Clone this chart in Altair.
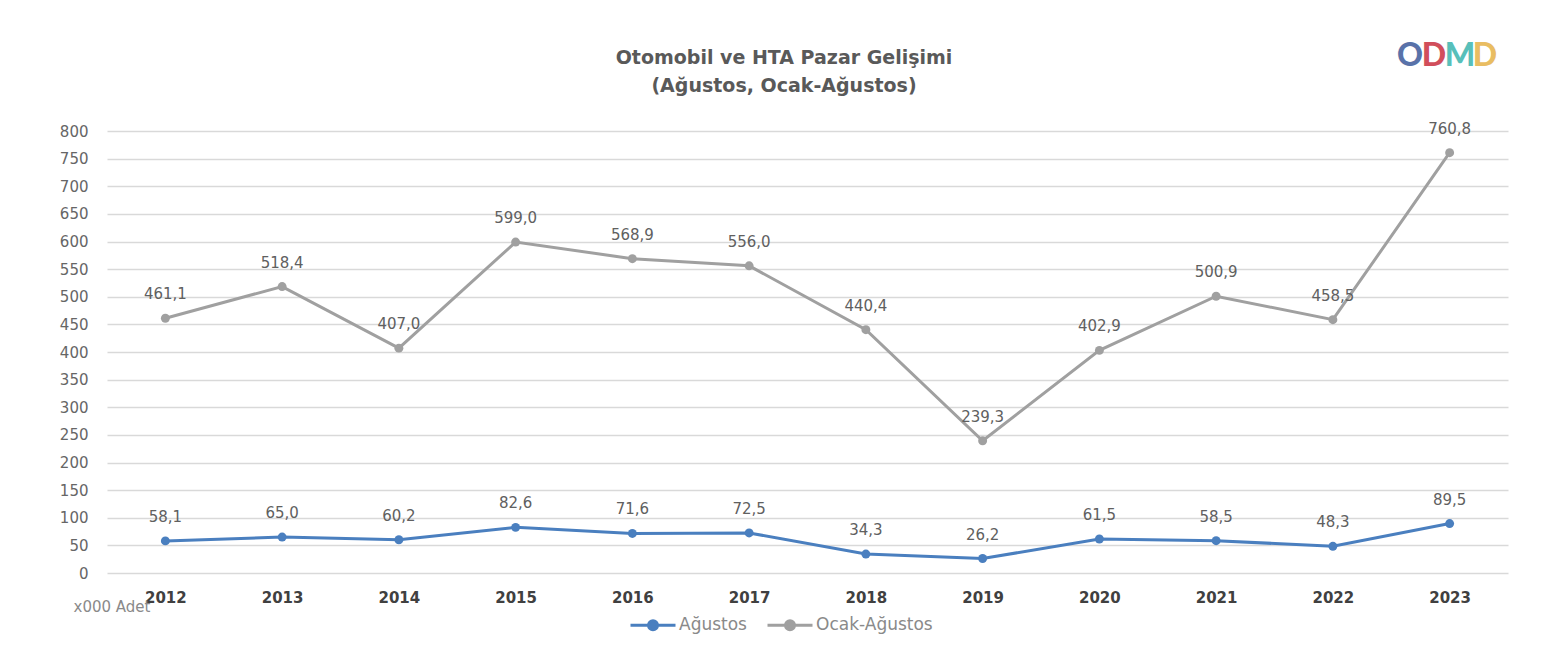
import altair as alt
import pandas as pd

years = [str(y) for y in range(2012, 2024)]
agustos = [58.1, 65.0, 60.2, 82.6, 71.6, 72.5, 34.3, 26.2, 61.5, 58.5, 48.3, 89.5]
ocak_agustos = [461.1, 518.4, 407.0, 599.0, 568.9, 556.0, 440.4, 239.3, 402.9, 500.9, 458.5, 760.8]
series_names = ["Ağustos", "Ocak-Ağustos"]
series_colors = ["#4a7fbf", "#a0a0a0"]
y_ticks = list(range(0, 801, 50))
title_lines = ["Otomobil ve HTA Pazar Gelişimi", "(Ağustos, Ocak-Ağustos)"]
unit_label = "x000 Adet"
logo_letters = ["O", "D", "M", "D"]
logo_colors = ["#3d5a9b", "#c9303f", "#3bb5ae", "#e6b247"]

df = pd.DataFrame({
    "Yıl": years * 2,
    "Seri": [series_names[0]] * len(years) + [series_names[1]] * len(years),
    "Değer": agustos + ocak_agustos,
})

FONT = "DejaVu Sans"
GREY = "#595959"
PL, PT = 107, 131  # plot-area origin inside the page

x = alt.X("Yıl:N", scale=alt.Scale(type="point", padding=0.5),
          axis=alt.Axis(title=None, labelAngle=0, labelFont=FONT, labelFontWeight="bold",
                        labelFontSize=15, labelColor="#404040", labelPadding=17,
                        ticks=False, domain=False, grid=False))
y = alt.Y("Değer:Q", scale=alt.Scale(domain=[0, 800], nice=False),
          axis=alt.Axis(values=y_ticks, title=unit_label, titleAngle=0, titleX=-34, titleY=480,
                        titleAlign="left", titleBaseline="alphabetic", titleFont=FONT,
                        titleFontWeight="normal", titleFontSize=15, titleColor="#8a8a8a",
                        labelFont=FONT, labelFontSize=15, labelColor="#666666", labelPadding=19,
                        ticks=False, domain=False, grid=True, gridColor="#d9d9d9", gridWidth=1.5))

legend_path = "M-1,0H-0.2M0.2,0H1M0.2,0A0.2,0.2,0,1,1,-0.2,0A0.2,0.2,0,1,1,0.2,0Z"
color = alt.Color("Seri:N", scale=alt.Scale(domain=series_names, range=series_colors),
                  legend=alt.Legend(title=None, orient="none", legendX=522, legendY=470,
                                    direction="horizontal", labelFont=FONT, labelFontSize=17,
                                    labelColor="#8a8a8a", symbolType=legend_path,
                                    symbolSize=2025, symbolStrokeWidth=3, columnPadding=14,
                                    labelOffset=2, symbolOpacity=1))

base = alt.Chart(df)
lines = base.mark_line(strokeWidth=3).encode(x=x, y=y, color=color)
points = base.mark_point(filled=True, size=80, opacity=1).encode(x=x, y=y, color=color)
labels = base.transform_calculate(
    lab="replace(format(datum['Değer'], '.1f'), '.', ',')"
).mark_text(dy=-16, baseline="bottom", font=FONT, fontSize=15, color="#606060").encode(
    x=x, y=y, text="lab:N")

one = pd.DataFrame({"a": [0]})
title_layers = []
for line, ty in zip(title_lines, [58, 86]):
    title_layers.append(
        alt.Chart(one).mark_text(text=line, font=FONT, fontSize=19, fontWeight="bold",
                                 color=GREY, align="center", baseline="middle")
        .encode(x=alt.value(784 - PL), y=alt.value(ty - PT))
    )

logo_layers = []
logo_x = [1410, 1434, 1460, 1485]
for letter, col, lx in zip(logo_letters, logo_colors, logo_x):
    logo_layers.append(
        alt.Chart(one).mark_text(
            text=letter, font="Lato", fontSize=32, fontWeight=900, color=col,
            opacity=0.85, align="center", baseline="middle"
        ).encode(x=alt.value(lx - PL), y=alt.value(56 - PT))
    )

chart = alt.layer(lines, points, labels, *title_layers, *logo_layers).properties(
    width=1401, height=442,
    padding={"left": PL - 8, "top": PT - 8, "right": 47, "bottom": 81},
    autosize=alt.AutoSizeParams(type="none"),
    background="white",
).configure_view(stroke=None)

chart.save("out.html", embed_options={"renderer": "svg", "actions": False})
